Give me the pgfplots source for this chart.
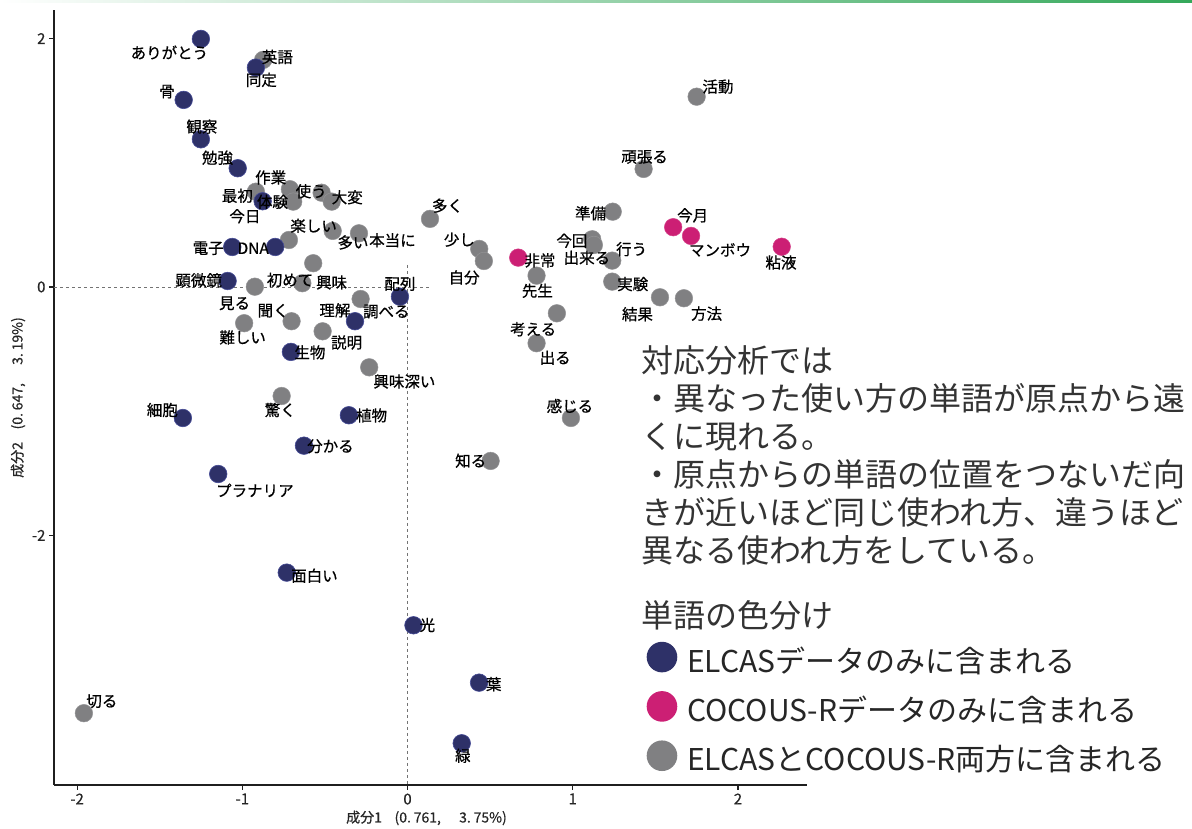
\documentclass[border=0pt]{standalone}
\usepackage{fontspec}
\setmainfont{Noto Sans CJK JP}
\newfontfamily\lblfont{Noto Sans CJK JP}[FakeBold=0.6]
\usepackage{pgfplots}
\pgfplotsset{compat=1.18}
\usepackage{pgfplotstable}

\definecolor{navyc}{RGB}{46,49,104}
\definecolor{pinkc}{RGB}{204,31,116}
\definecolor{grayc}{RGB}{128,128,130}
\definecolor{barg}{RGB}{52,168,90}

% x y label dx dy  (dx, dy: label offset in pt)
\pgfplotstableread{
x y label dx dy
-0.874 1.828 英語 14.2 3
-0.918 0.767 最初 -18.5 -4.1
-0.712 0.787 作業 -19.2 11.8
-0.692 0.687 今日 -48.3 -14.6
-0.520 0.759 使う -10.4 1.4
-0.459 0.687 大変 15.5 4.4
-0.718 0.378 楽しい 24.7 14.2
-0.453 0.451 多い 20.3 -11.5
-0.294 0.432 本当に 33.5 -7
0.136 0.548 多く 17.5 13.2
-0.571 0.191 興味 18.4 -19.2
-0.637 0.030 初めて -12.3 3.3
-0.924 0.002 見る -20.3 -16.6
-0.284 -0.097 理解 -25.7 -11.3
-0.702 -0.276 聞く -18.4 10.5
-0.989 -0.292 難しい -1.5 -14.2
-0.514 -0.357 説明 24 -11.2
-0.232 -0.647 興味深い 35.2 -14.2
-0.762 -0.878 驚く -1.4 -14
0.434 0.306 少し -19.8 9.3
0.462 0.209 自分 -19.8 -16.5
0.781 0.091 先生 0.8 -15.1
1.118 0.384 今回 -20.3 -1.5
1.128 0.338 出来る -7 -12.8
1.239 0.212 行う 19.4 11.5
1.242 0.606 準備 -22.2 -1.6
1.239 0.043 実験 20.5 -2.5
1.528 -0.083 結果 -22.5 -16.9
1.673 -0.091 方法 22.7 -15.4
0.904 -0.212 考える -23.7 -15.9
0.781 -0.453 出る 18.6 -14.5
0.989 -1.055 感じる -1 12
0.503 -1.401 知る -19.9 0.2
1.429 0.950 頑張る 1 12
1.750 1.532 活動 21.3 10
-1.959 -3.432 切る 18 12
}\graytab

\pgfplotstableread{
x y label dx dy
-1.251 1.997 ありがとう -31.5 -13.5
-0.918 1.766 同定 5.5 -12.3
-1.355 1.506 骨 -16.7 8.3
-1.251 1.189 観察 1 12.6
-1.028 0.956 勉強 -20.2 10.5
-0.877 0.690 体験 9.8 -0.5
-1.061 0.322 電子 -24 -1.3
-0.801 0.322 DNA -22 -1.3
-1.089 0.048 顕微鏡 -29 0.7
-0.046 -0.078 配列 0 12.7
-0.318 -0.276 調べる 31.3 9.6
-0.706 -0.523 生物 19 -0.5
-1.360 -1.055 細胞 -20.5 8
-0.355 -1.033 植物 22.7 -0.2
-0.627 -1.278 分かる 26.5 -0.6
-1.146 -1.506 プラナリア 36.7 -16.3
-0.731 -2.300 面白い 27.7 -3.1
0.036 -2.724 光 13.9 0.3
0.433 -3.186 葉 14.7 -1.5
0.328 -3.674 緑 1.2 -12.5
}\navytab

\pgfplotstableread{
x y label dx dy
0.670 0.236 非常 21.7 -2.8
1.608 0.481 今月 19.5 11.8
1.716 0.411 マンボウ 29 -14
2.265 0.324 粘液 -0.7 -15.8
}\pinktab

\pgfplotsset{
  labelplot/.style={forget plot, draw=none, mark=none,
    point meta=explicit symbolic,
    nodes near coords,
    visualization depends on={\thisrow{dx}\as\ldx},
    visualization depends on={\thisrow{dy}\as\ldy},
    every node near coord/.style={anchor=center, xshift={\ldx*1pt}, yshift={\ldy*1pt},
      inner sep=0pt, text=black, font=\lblfont\fontsize{15.5}{15.5}\selectfont}},
  dotplot/.style={forget plot, only marks, mark=*, mark size=8.8pt}
}

\begin{document}
\begin{tikzpicture}[x=1pt,y=1pt]
\path (0,0) rectangle (1192,827);
\shade[left color=white, right color=barg] (0,824) rectangle (1192,827);
\begin{axis}[
  at={(54pt,42pt)}, anchor=south west,
  scale only axis, width=753pt, height=775pt,
  xmin=-2.14, xmax=2.418, ymin=-4.01, ymax=2.23,
  axis x line*=bottom, axis y line*=left,
  axis line style={line width=1.5pt, black!88},
  xtick={-2,-1,0,1,2}, ytick={-2,0,2},
  tick align=outside, major tick length=5pt,
  tick style={line width=1.1pt, black!88},
  tick label style={font=\lblfont\fontsize{15}{15}\selectfont, text=black!85},
  /pgf/number format/assume math mode=true,
  xlabel={成分1\hspace{0.9em}(0.\hspace{0.2em}761,\hspace{1.3em}3.\hspace{0.2em}75\%)},
  ylabel={成分2\hspace{0.9em}(0.\hspace{0.2em}647,\hspace{1.3em}3.\hspace{0.2em}19\%)},
  every axis x label/.style={at={(axis description cs:0.5,0)}, anchor=center, xshift=-4pt, yshift=-33pt, font=\lblfont\fontsize{14}{14}\selectfont, text=black!85},
  every axis y label/.style={at={(axis description cs:0,0.5)}, anchor=center, xshift=-36pt, rotate=90, font=\lblfont\fontsize{14}{14}\selectfont, text=black!85},
  clip=false,
  legend style={at={(axis description cs:0.7871,0.1848)}, anchor=north west,
    draw=none, fill=none, inner sep=0pt, outer sep=0pt,
    font=\fontsize{30}{30}\selectfont, text=black!85,
    row sep=17.5pt, nodes={inner sep=0pt},
    /tikz/every odd column/.append style={column sep=10pt}},
  legend cell align=left,
  legend image code/.code={\fill[#1, draw=none] (0pt,3pt) circle (15.3pt);},
]
\draw[black!55, line width=0.8pt, dash pattern=on 3pt off 3pt] (axis cs:-2.14,0) -- (axis cs:0.136,0);
\draw[black!55, line width=0.8pt, dash pattern=on 3pt off 3pt] (axis cs:0,0.177) -- (axis cs:0,-4.01);

\addplot[dotplot, mark options={fill=grayc, draw=grayc!85!white, line width=0.5pt}] table[x=x,y=y] {\graytab};
\addplot[dotplot, mark options={fill=navyc, draw={rgb,255:red,70;green,76;blue,150}, line width=0.6pt}] table[x=x,y=y] {\navytab};
\addplot[dotplot, mark options={fill=pinkc, draw=pinkc!85!white, line width=0.5pt}] table[x=x,y=y] {\pinktab};

\addplot[labelplot] table[x=x,y=y,meta=label] {\graytab};
\addplot[labelplot] table[x=x,y=y,meta=label] {\navytab};
\addplot[labelplot] table[x=x,y=y,meta=label] {\pinktab};

\addlegendimage{fill=navyc}
\addlegendentry{ELCASデータのみに含まれる}
\addlegendimage{fill=pinkc}
\addlegendentry{COCOUS-Rデータのみに含まれる}
\addlegendimage{fill=grayc}
\addlegendentry{ELCASとCOCOUS-R両方に含まれる}
\end{axis}

\begin{scope}[every node/.style={anchor=base west, inner sep=0pt, font=\fontsize{32}{32}\selectfont, text=black!80}]
\node at (641,454.4) {対応分析では};
\node at (641,416.4) {・異なった使い方の単語が原点から遠};
\node at (641,378.4) {くに現れる。};
\node at (641,340.4) {・原点からの単語の位置をつないだ向};
\node at (641,302.4) {きが近いほど同じ使われ方、違うほど};
\node at (641,264.4) {異なる使われ方をしている。};
\node at (641,199.1) {単語の色分け};
\end{scope}
\end{tikzpicture}
\end{document}
